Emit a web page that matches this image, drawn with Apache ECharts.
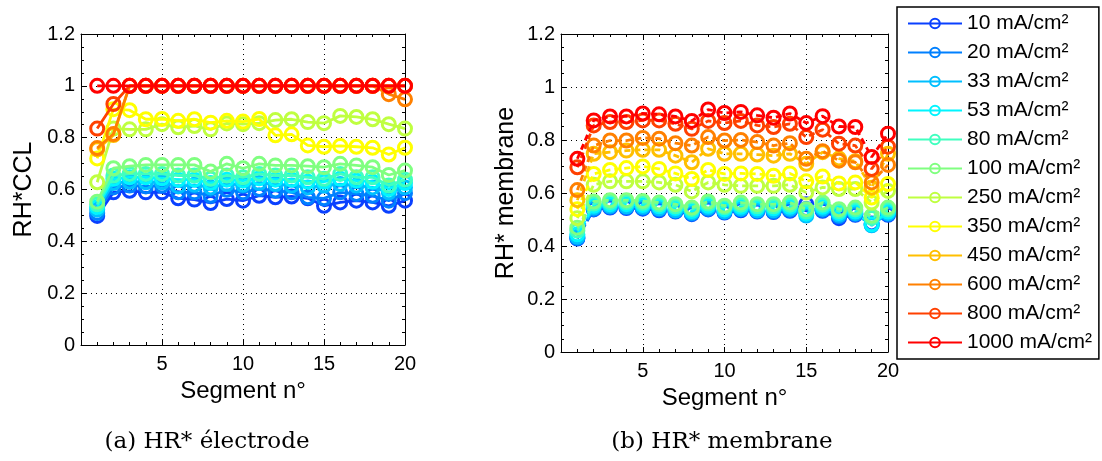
<!DOCTYPE html>
<html><head><meta charset="utf-8">
<script src="https://cdn.jsdelivr.net/npm/echarts@6/dist/echarts.min.js"></script>
<style>html,body{margin:0;padding:0;background:#fff}#c{width:1102px;height:461px}</style>
</head><body><div id="c"></div>
<script>
const segments = [1,2,3,4,5,6,7,8,9,10,11,12,13,14,15,16,17,18,19,20];
const seriesNames = ['10 mA/cm²','20 mA/cm²','33 mA/cm²','53 mA/cm²','80 mA/cm²','100 mA/cm²','250 mA/cm²','350 mA/cm²','450 mA/cm²','600 mA/cm²','800 mA/cm²','1000 mA/cm²'];
const colors = ['#0a40ff','#0080ff','#00bfff','#00f5ff','#40ffbf','#80ff80','#bfff40','#ffff00','#ffbf00','#ff8000','#ff4000','#ff0000'];
const yTicks = ['0','0.2','0.4','0.6','0.8','1','1.2'];
const xTicks = ['5','10','15','20'];

// (a) RH*CCL (electrode)
const elec10   = [0.498,0.589,0.595,0.589,0.589,0.566,0.561,0.548,0.563,0.557,0.576,0.570,0.573,0.566,0.537,0.550,0.557,0.550,0.537,0.557];
const elec20   = [0.509,0.608,0.615,0.612,0.615,0.589,0.589,0.576,0.599,0.589,0.602,0.596,0.589,0.570,0.566,0.589,0.583,0.576,0.557,0.586];
const elec33   = [0.522,0.625,0.630,0.628,0.628,0.612,0.618,0.608,0.621,0.618,0.625,0.621,0.615,0.608,0.615,0.621,0.615,0.608,0.589,0.608];
const elec53   = [0.532,0.641,0.647,0.647,0.643,0.638,0.638,0.625,0.638,0.634,0.643,0.638,0.638,0.630,0.630,0.641,0.634,0.630,0.602,0.625];
const elec80   = [0.543,0.654,0.660,0.660,0.660,0.654,0.654,0.641,0.654,0.647,0.660,0.654,0.654,0.647,0.641,0.660,0.647,0.647,0.615,0.638];
const elec100  = [0.553,0.682,0.690,0.695,0.695,0.695,0.695,0.669,0.699,0.682,0.699,0.693,0.693,0.690,0.686,0.699,0.693,0.686,0.656,0.673];
const elec250  = [0.628,0.835,0.832,0.832,0.852,0.840,0.845,0.832,0.855,0.852,0.856,0.868,0.871,0.860,0.856,0.884,0.880,0.871,0.852,0.835];
const elec350  = [0.720,0.910,0.906,0.871,0.872,0.865,0.871,0.858,0.865,0.862,0.872,0.809,0.813,0.770,0.765,0.768,0.765,0.761,0.735,0.761];
const elec450  = [0.755,0.810,1,1,1,1,1,1,1,1,1,1,1,1,1,1,1,1,1,1];
const elec600  = [0.760,0.814,1,1,1,1,1,1,1,1,1,1,1,1,1,1,1,1,0.968,0.948];
const elec800  = [0.835,0.930,1,1,1,1,1,1,1,1,1,1,1,1,1,1,1,1,1,1];
const elec1000 = [1,1,1,1,1,1,1,1,1,1,1,1,1,1,1,1,1,1,1,1];

// (b) RH* membrane
const memb10   = [0.428,0.538,0.545,0.543,0.541,0.535,0.530,0.520,0.538,0.526,0.535,0.530,0.528,0.533,0.558,0.533,0.505,0.518,0.485,0.518];
const memb20   = [0.430,0.540,0.548,0.546,0.544,0.538,0.532,0.522,0.540,0.528,0.538,0.532,0.530,0.536,0.540,0.536,0.512,0.520,0.480,0.520];
const memb33   = [0.435,0.545,0.552,0.550,0.548,0.542,0.535,0.526,0.545,0.531,0.541,0.535,0.535,0.541,0.515,0.541,0.518,0.524,0.478,0.524];
const memb53   = [0.444,0.552,0.558,0.558,0.555,0.550,0.543,0.532,0.552,0.538,0.548,0.542,0.542,0.548,0.522,0.548,0.525,0.530,0.482,0.530];
const memb80   = [0.458,0.560,0.566,0.566,0.563,0.557,0.550,0.540,0.560,0.546,0.556,0.550,0.550,0.556,0.530,0.556,0.532,0.538,0.506,0.538];
const memb100  = [0.469,0.568,0.573,0.573,0.570,0.564,0.558,0.545,0.568,0.552,0.564,0.558,0.558,0.564,0.539,0.564,0.539,0.545,0.514,0.545];
const memb250  = [0.505,0.631,0.644,0.644,0.644,0.640,0.631,0.606,0.640,0.631,0.627,0.627,0.627,0.631,0.602,0.621,0.615,0.615,0.564,0.608];
const memb350  = [0.539,0.672,0.687,0.694,0.700,0.691,0.674,0.653,0.687,0.672,0.674,0.672,0.665,0.674,0.644,0.662,0.636,0.640,0.583,0.634];
const memb450  = [0.573,0.748,0.754,0.760,0.763,0.763,0.741,0.716,0.767,0.748,0.748,0.745,0.741,0.748,0.710,0.754,0.730,0.720,0.620,0.748];
const memb600  = [0.611,0.779,0.798,0.798,0.808,0.805,0.788,0.779,0.811,0.798,0.800,0.792,0.779,0.788,0.729,0.758,0.722,0.716,0.640,0.706];
const memb800  = [0.697,0.855,0.868,0.868,0.874,0.874,0.861,0.842,0.872,0.864,0.872,0.855,0.849,0.861,0.811,0.839,0.786,0.779,0.691,0.775];
const memb1000 = [0.729,0.874,0.889,0.889,0.900,0.897,0.889,0.872,0.915,0.902,0.906,0.893,0.884,0.900,0.864,0.890,0.851,0.849,0.736,0.824];

const elecData = [elec10,elec20,elec33,elec53,elec80,elec100,elec250,elec350,elec450,elec600,elec800,elec1000];
const membData = [memb10,memb20,memb33,memb53,memb80,memb100,memb250,memb350,memb450,memb600,memb800,memb1000];

const SANS = '"Liberation Sans", Arial, sans-serif';
const black = '#000';

function xAxis(gi, pos, main) {
  return {
    type:'value', gridIndex:gi, position:pos, min:0, max:20, interval:5,
    axisLine:{show:true, onZero:false, lineStyle:{color:black, width:1}},
    axisTick:{show:true, inside:true, length:5, lineStyle:{color:black}},
    minorTick:{show:true, splitNumber:5, length:3, lineStyle:{color:black}},
    axisLabel:{show:main, margin:9, fontFamily:SANS, fontSize:20, color:black,
      formatter: v => xTicks.indexOf(String(v)) >= 0 ? String(v) : ''},
    splitLine:{show:main, lineStyle:{color:black, type:[1,4], width:1}},
    name: main ? 'Segment n°' : '', nameLocation:'middle', nameGap:30,
    nameTextStyle:{fontFamily:SANS, fontSize:24, color:black}
  };
}
function yAxis(gi, pos, main, name, gap) {
  return {
    type:'value', gridIndex:gi, position:pos, min:0, max:1.2, interval:0.2,
    axisLine:{show:true, onZero:false, lineStyle:{color:black, width:1}},
    axisTick:{show:true, inside:true, length:5, lineStyle:{color:black}},
    minorTick:{show:true, splitNumber:4, length:3, lineStyle:{color:black}},
    axisLabel:{show:main, margin:6, fontFamily:SANS, fontSize:20, color:black,
      formatter: v => yTicks[Math.round(v/0.2)]},
    splitLine:{show:main, lineStyle:{color:black, type:[1,4], width:1}},
    name: main ? name : '', nameLocation:'middle', nameGap:gap,
    nameTextStyle:{fontFamily:SANS, fontSize:25, color:black}
  };
}

const series = [];
seriesNames.forEach((nm, i) => {
  const c = colors[i];
  series.push({
    name:nm, type:'line', xAxisIndex:0, yAxisIndex:0, color:c,
    data: segments.map((s, k) => [s, elecData[i][k]]),
    symbol:'circle', symbolSize:13, showSymbol:true,
    itemStyle:{color:'rgba(255,255,255,0)', borderColor:c, borderWidth:3},
    lineStyle:{color:c, width:2.8}, animation:false, z:2+i
  });
  series.push({
    name:nm, type:'line', xAxisIndex:2, yAxisIndex:2, color:c,
    data: segments.map((s, k) => [s, membData[i][k]]),
    symbol:'circle', symbolSize:13, showSymbol:true,
    itemStyle:{color:'rgba(255,255,255,0)', borderColor:c, borderWidth:3},
    lineStyle:{color:c, width:2.8, type:[6,4]}, animation:false, z:2+i
  });
});

const chart = echarts.init(document.getElementById('c'), null, {renderer:'canvas'});
chart.setOption({
  backgroundColor:'#fff',
  animation:false,
  grid:[
    {left:81, top:34, width:324, height:311, show:false},
    {left:561, top:34, width:327, height:318, show:false}
  ],
  xAxis:[ xAxis(0,'bottom',true), xAxis(0,'top',false), xAxis(1,'bottom',true), xAxis(1,'top',false) ],
  yAxis:[ yAxis(0,'left',true,'RH*CCL',44), yAxis(0,'right',false,'',0),
          yAxis(1,'left',true,'RH* membrane',42), yAxis(1,'right',false,'',0) ],
  legend:{
    orient:'vertical', left:897, top:7, padding:[6,7,6,10],
    itemWidth:54, itemHeight:12, itemGap:8, itemTextGap:6,
    borderColor:black, borderWidth:1.5, backgroundColor:'#fff',
    textStyle:{fontFamily:SANS, fontSize:21, color:black, lineHeight:20.5},
    data: seriesNames
  },
  graphic:[
    {type:'text', x:207, y:442, style:{text:'(a) HR* électrode', font:'23px "DejaVu Serif", serif', fill:black, align:'center', verticalAlign:'middle', textAlign:'center', textVerticalAlign:'middle'}},
    {type:'text', x:722, y:442, style:{text:'(b) HR* membrane', font:'23px "DejaVu Serif", serif', fill:black, align:'center', verticalAlign:'middle', textAlign:'center', textVerticalAlign:'middle'}}
  ],
  series: series
});
</script>
</body></html>
